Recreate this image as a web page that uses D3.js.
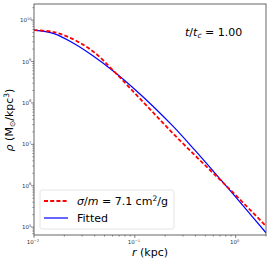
<!DOCTYPE html>
<html>
<head>
<meta charset="UTF-8">
<style>
  body { margin: 0; background: #fff; }
  text { font-family: "DejaVu Sans", sans-serif; }
</style>
</head>
<body>
<svg id="chart"></svg>
<script src="https://d3js.org/d3.v7.min.js"></script>
<script>
let width = 271, height = 262;

// radius (kpc) and density (Msun/kpc^3)
let radii  = [0.0100, 0.0158, 0.0249, 0.0393, 0.0619, 0.0977, 0.154, 0.243, 0.384, 0.605, 0.955, 2.0];
let simRho = [5.73e9, 5.13e9, 3.38e9, 1.69e9, 5.86e8, 1.82e8, 5.68e7, 1.76e7, 5.80e6, 1.96e6, 6.62e5, 1.06e5];
let fitRho = [5.73e9, 4.74e9, 2.72e9, 1.32e9, 5.73e8, 2.23e8, 8.0e7, 2.63e7, 7.74e6, 2.20e6, 6.12e5, 7.3e4];
let xTicks = [-2, -1, 0];
let yTicks = [5, 6, 7, 8, 9, 10];

let m = {left: 34, right: 266, top: 4, bottom: 235};

let svg = d3.select("#chart").attr("width", width).attr("height", height);

let x = d3.scaleLog().domain([0.01, 2.0]).range([m.left, m.right]);
let y = d3.scaleLog().domain([Math.pow(10, 4.81), Math.pow(10, 10.39)]).range([m.bottom, m.top]);

// minor + major ticks
let xMinor = [], yMinor = [];
for (let e = -2; e <= 0; e++) for (let k = 2; k <= 9; k++) { let v = k * Math.pow(10, e); if (v <= 2.0) xMinor.push(v); }
for (let e = 4; e <= 10; e++) for (let k = 2; k <= 9; k++) { let v = k * Math.pow(10, e); if (v >= y.domain()[0] && v <= y.domain()[1]) yMinor.push(v); }

let ax = svg.append("g").attr("stroke", "#333").attr("stroke-width", 0.6);
ax.selectAll(".xm").data(xMinor).enter().append("line")
  .attr("x1", d => x(d)).attr("x2", d => x(d)).attr("y1", m.bottom).attr("y2", m.bottom + 1.5);
ax.selectAll(".xM").data(xTicks).enter().append("line")
  .attr("x1", d => x(Math.pow(10, d))).attr("x2", d => x(Math.pow(10, d))).attr("y1", m.bottom).attr("y2", m.bottom + 3);
ax.selectAll(".ym").data(yMinor).enter().append("line")
  .attr("y1", d => y(d)).attr("y2", d => y(d)).attr("x1", m.left).attr("x2", m.left - 1.5);
ax.selectAll(".yM").data(yTicks).enter().append("line")
  .attr("y1", d => y(Math.pow(10, d))).attr("y2", d => y(Math.pow(10, d))).attr("x1", m.left).attr("x2", m.left - 3);

// tick labels
function powLabel(sel, e) {
  sel.append("tspan").text("10");
  sel.append("tspan").attr("dy", -2.5).style("font-size", "3.6px").text(e < 0 ? "\u2212" + (-e) : e);
}
svg.selectAll(".xl").data(xTicks).enter().append("text")
  .attr("x", d => x(Math.pow(10, d)) - 1).attr("y", m.bottom + 9)
  .attr("text-anchor", "middle").style("font-size", "5.5px").attr("fill", "#333")
  .each(function (d) { powLabel(d3.select(this), d); });
svg.selectAll(".yl").data(yTicks).enter().append("text")
  .attr("x", d => d >= 10 ? m.left - 14 : m.left - 12).attr("y", d => y(Math.pow(10, d)) + 2)
  .style("font-size", "5.5px").attr("fill", "#333")
  .each(function (d) { powLabel(d3.select(this), d); });

// curves
let line = d3.line().curve(d3.curveCatmullRom.alpha(0.5));
svg.append("clipPath").attr("id", "clip").append("rect")
  .attr("x", m.left).attr("y", m.top).attr("width", m.right - m.left).attr("height", m.bottom - m.top);

svg.append("path")
  .attr("clip-path", "url(#clip)")
  .attr("d", line(radii.map((r, i) => [x(r), y(fitRho[i])])))
  .attr("fill", "none").attr("stroke", "#0000ff").attr("stroke-width", 1.2);
svg.append("path")
  .attr("clip-path", "url(#clip)")
  .attr("d", line(radii.map((r, i) => [x(r), y(simRho[i])])))
  .attr("fill", "none").attr("stroke", "#ff0000").attr("stroke-width", 1.8)
  .attr("stroke-dasharray", "4,2.2");

// frame
svg.append("rect").attr("x", m.left).attr("y", m.top)
  .attr("width", m.right - m.left).attr("height", m.bottom - m.top)
  .attr("fill", "none").attr("stroke", "#555").attr("stroke-width", 0.9);

// annotation
let ann = svg.append("text").attr("x", 185).attr("y", 36).style("font-size", "11px");
ann.append("tspan").style("font-style", "italic").text("t");
ann.append("tspan").text("/");
ann.append("tspan").style("font-style", "italic").text("t");
ann.append("tspan").attr("dy", 2).style("font-size", "7.5px").style("font-style", "italic").text("c");
ann.append("tspan").attr("dy", -2).text(" = 1.00");

// axis labels
let xl = svg.append("text").attr("x", 150).attr("y", 256).attr("text-anchor", "middle").style("font-size", "11px");
xl.append("tspan").style("font-style", "italic").text("r");
xl.append("tspan").text(" (kpc)");

let yl = svg.append("text").attr("transform", "translate(13,120) rotate(-90)")
  .attr("text-anchor", "middle").style("font-size", "11px");
yl.append("tspan").style("font-style", "italic").text("\u03c1");
yl.append("tspan").text(" (M");
yl.append("tspan").attr("dy", 2).style("font-size", "7.5px").text("\u2299");
yl.append("tspan").attr("dy", -2).text("/kpc");
yl.append("tspan").attr("dy", -4).style("font-size", "7.5px").text("3");
yl.append("tspan").attr("dy", 4).text(")");

// legend
let lg = svg.append("g").attr("transform", "translate(40,190)");
lg.append("rect").attr("width", 134).attr("height", 39).attr("rx", 2)
  .attr("fill", "#fff").attr("fill-opacity", 0.8).attr("stroke", "#ddd").attr("stroke-width", 0.8);
let items = [
  {color: "#ff0000", dash: "4,2.2", w: 1.8, y: 11},
  {color: "#0000ff", dash: null, w: 1.2, y: 28}
];
lg.selectAll("line").data(items).enter().append("line")
  .attr("x1", 4).attr("x2", 28).attr("y1", d => d.y).attr("y2", d => d.y)
  .attr("stroke", d => d.color).attr("stroke-width", d => d.w)
  .attr("stroke-dasharray", d => d.dash);
let t1 = lg.append("text").attr("x", 37).attr("y", 15).style("font-size", "11px");
t1.append("tspan").style("font-style", "italic").text("\u03c3");
t1.append("tspan").text("/");
t1.append("tspan").style("font-style", "italic").text("m");
t1.append("tspan").text(" = 7.1 cm");
t1.append("tspan").attr("dy", -4).style("font-size", "7.5px").text("2");
t1.append("tspan").attr("dy", 4).text("/g");
lg.append("text").attr("x", 37).attr("y", 32).style("font-size", "11px").text("Fitted");
</script>
</body>
</html>
